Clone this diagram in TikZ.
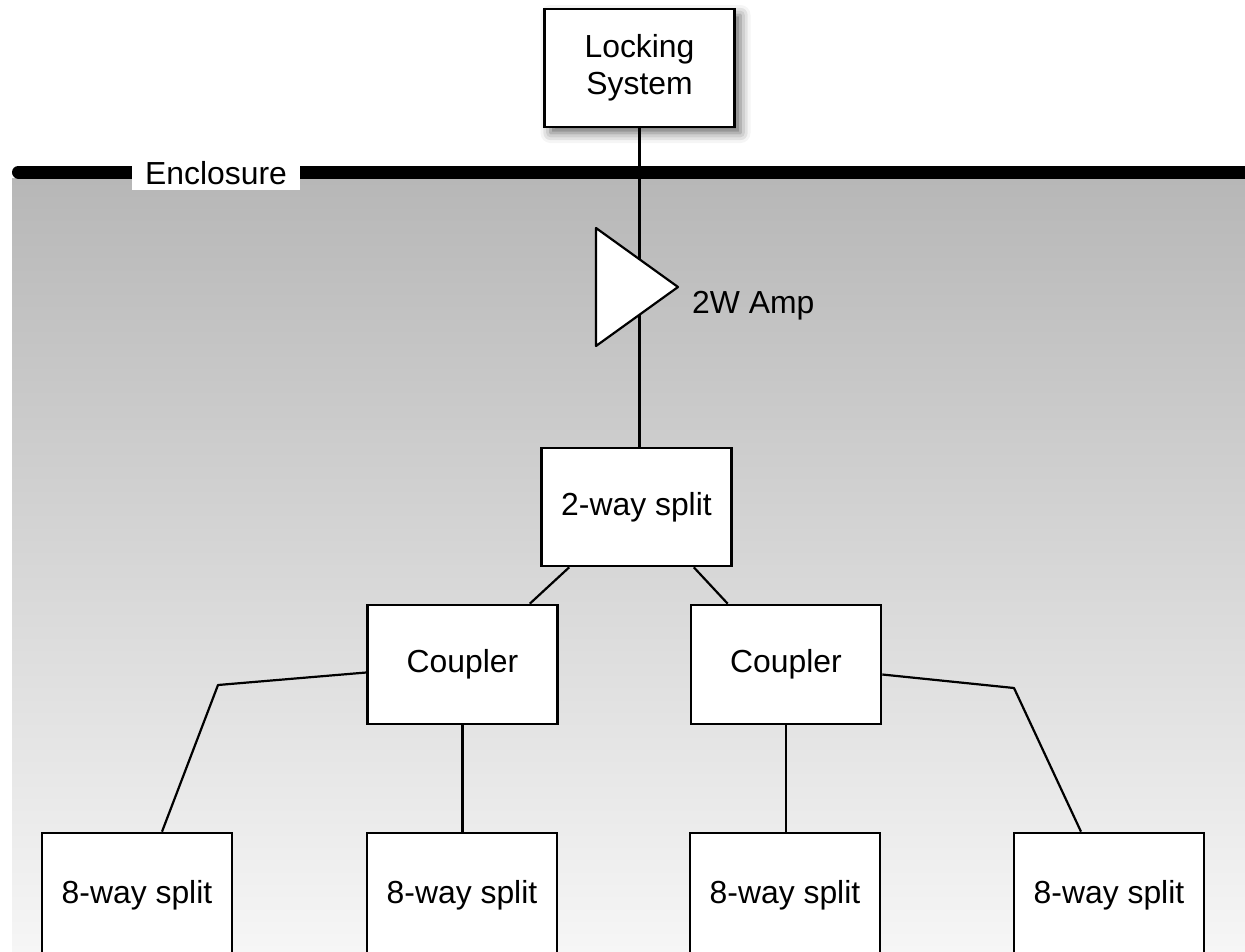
\documentclass[tikz,border=0pt]{standalone}
\usepackage{fontspec}
\setmainfont{Liberation Sans}
\usetikzlibrary{calc,shadows.blur}
\definecolor{enctop}{RGB}{183,183,183}
\definecolor{encbot}{RGB}{246,246,246}
\begin{document}
\begin{tikzpicture}[x=1bp,y=-1bp,
  lbl/.style={font=\fontsize{32}{37}\selectfont},
  box/.style={lbl, draw=black, line width=2.6bp, fill=white,
    minimum width=190bp, minimum height=118bp, inner sep=0pt, align=center},
  wire/.style={line width=2.2bp, line join=round}]
\useasboundingbox (0,0) rectangle (1245,952);
\clip (0,0) rectangle (1245,952);

% enclosure: shaded area and heavy top border
\shade[top color=enctop, bottom color=encbot] (12,178) rectangle (1245,952);
\draw[line width=13bp, line cap=round] (18.5,172) -- (1260,172);
\node[lbl, fill=white, inner sep=0pt, minimum width=168bp, minimum height=33bp]
  (enclabel) at (216,173.5) {Enclosure};

% blocks
\node[box, blur shadow={shadow xshift=6bp, shadow yshift=-6bp,
  shadow blur radius=10bp, shadow opacity=60}] (lock) at (639.5,68) {Locking\\System};
\node[box] (split2) at (636.5,507) {2-way split};
\node[box, minimum height=119bp] (cplL) at (462.5,664.5) {Coupler};
\node[box, minimum height=119bp] (cplR) at (786,664.5) {Coupler};
\node[box, minimum height=124bp] (s1) at (137,895) {8-way split};
\node[box, minimum height=124bp] (s2) at (462,895) {8-way split};
\node[box, minimum height=124bp] (s3) at (785,895) {8-way split};
\node[box, minimum height=124bp] (s4) at (1109,895) {8-way split};

% feed from the locking system through the amplifier
\draw[wire] (lock.south) -- (lock.south |- split2.north);
\coordinate (ampA) at (596,228);
\coordinate (ampB) at (596,346);
\coordinate (ampT) at (678,287);
\filldraw[wire, fill=white] (ampA) -- (ampT) -- (ampB) -- cycle;
\node[lbl, anchor=base west, inner sep=0pt] (amplabel) at (692,313) {2W Amp};

% distribution tree
\draw[wire] ($(split2.south west)+(29,0)$) -- ($(cplL.north east)+(-29,0)$);
\draw[wire] ($(split2.south east)+(-39,0)$) -- ($(cplR.north west)+(38,0)$);
\coordinate (kneeL) at (218,685);
\coordinate (kneeR) at (1014,688);
\draw[wire] ($(cplL.west)+(0,8)$) -- (kneeL) -- ($(s1.north)+(25,0)$);
\draw[wire] (cplL.south) -- (cplL.south |- s2.north);
\draw[wire] (cplR.south) -- (cplR.south |- s3.north);
\draw[wire] ($(cplR.east)+(0,10)$) -- (kneeR) -- ($(s4.north)+(-28,0)$);
\end{tikzpicture}
\end{document}
